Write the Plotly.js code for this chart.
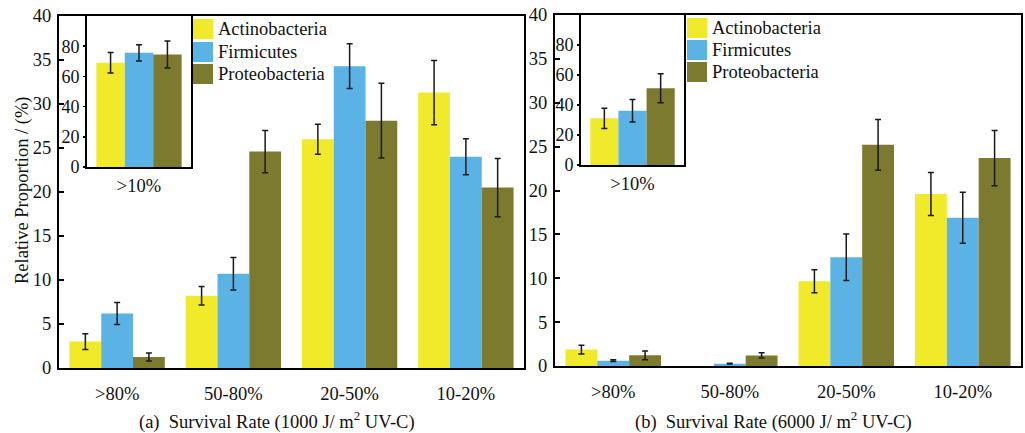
<!DOCTYPE html>
<html>
<head>
<meta charset="utf-8">
<script src="https://cdn.plot.ly/plotly-3.0.1.min.js"></script>
<style>html,body{margin:0;padding:0;background:#fff;}#chart{width:1025px;height:433px;}</style>
</head>
<body>
<div id="chart"></div>
<script>
// ---- data ----
const categories = [">80%", "50-80%", "20-50%", "10-20%"];
const insetCategory = [">10%"];
const seriesNames = ["Actinobacteria", "Firmicutes", "Proteobacteria"];
const seriesColors = ["#F1EA2B", "#5BB2E5", "#7B7A2E"];

// (a) 1000 J/m2 UV-C
const a_actino = [3.0, 8.2, 26.0, 31.3];
const a_actinoErr = [0.9, 1.05, 1.7, 3.65];
const a_firm = [6.2, 10.7, 34.3, 24.0];
const a_firmErr = [1.25, 1.85, 2.55, 2.05];
const a_proteo = [1.25, 24.6, 28.1, 20.5];
const a_proteoErr = [0.45, 2.4, 4.25, 3.3];
const a_inset = [69.0, 75.6, 74.5];
const a_insetErr = [6.8, 5.4, 9.0];

// (b) 6000 J/m2 UV-C  (no error bar shown for Actinobacteria at 50-80%)
const b_actino = [1.87, 0, 9.66, 19.6];
const b_actinoErr = [0.5, NaN, 1.3, 2.45];
const b_firm = [0.6, 0.27, 12.4, 16.9];
const b_firmErr = [0.1, 0.05, 2.65, 2.9];
const b_proteo = [1.22, 1.2, 25.2, 23.7];
const b_proteoErr = [0.5, 0.3, 2.9, 3.15];
const b_inset = [31.1, 36.2, 51.2];
const b_insetErr = [6.8, 7.5, 9.7];

const mainTicks = [0, 5, 10, 15, 20, 25, 30, 35, 40];
const insetTicks = [0, 20, 40, 60, 80];
const yTitle = "Relative Proportion / (%)";
const xTitleA = "(a)  Survival Rate (1000 J/ m<sup>2</sup> UV-C)";
const xTitleB = "(b)  Survival Rate (6000 J/ m<sup>2</sup> UV-C)";

// ---- build ----
const W = 1025, H = 433;
const px = v => v / W;
const py = v => 1 - v / H;
const FONT = '"Liberation Serif", "Times New Roman", serif';

const errStyle = arr => ({type: "data", array: arr, visible: true, color: "#1a1a1a", thickness: 1.5, width: 3});

function mainTraces(vals, errs, xa, ya) {
  return vals.map((v, i) => ({
    type: "bar", x: categories, y: v, name: seriesNames[i],
    marker: {color: seriesColors[i]}, error_y: errStyle(errs[i]),
    xaxis: xa, yaxis: ya, showlegend: false, hoverinfo: "skip"
  }));
}
function insetTraces(vals, errs, xa, ya) {
  return vals.map((v, i) => ({
    type: "bar", x: insetCategory, y: [v], name: seriesNames[i],
    marker: {color: seriesColors[i]}, error_y: errStyle([errs[i]]),
    xaxis: xa, yaxis: ya, showlegend: false, hoverinfo: "skip"
  }));
}

const data = [
  ...mainTraces([a_actino, a_firm, a_proteo], [a_actinoErr, a_firmErr, a_proteoErr], "x", "y"),
  ...mainTraces([b_actino, b_firm, b_proteo], [b_actinoErr, b_firmErr, b_proteoErr], "x2", "y2"),
  ...insetTraces(a_inset, a_insetErr, "x3", "y3"),
  ...insetTraces(b_inset, b_insetErr, "x4", "y4")
];

const tickFont = {family: FONT, size: 18.5, color: "#111"};

function mainX(domain, anchor) {
  return {domain, anchor, type: "category", showline: true, mirror: true, linecolor: "#000", linewidth: 2,
    ticks: "", tickfont: tickFont, ticklabelstandoff: 8, showgrid: false, zeroline: false, fixedrange: true};
}
function mainY(domain, anchor) {
  return {domain, anchor, range: [0, 40], tickvals: mainTicks, showline: true, mirror: true, linecolor: "#000", linewidth: 2,
    ticks: "inside", ticklen: 5, tickwidth: 2, tickcolor: "#000", tickfont: tickFont, ticklabelstandoff: 2,
    showgrid: false, zeroline: false, fixedrange: true};
}
function insetX(domain, anchor) {
  return {domain, anchor, type: "category", showline: true, mirror: true, linecolor: "#000", linewidth: 2,
    ticks: "", tickfont: tickFont, ticklabelstandoff: 1, showgrid: false, zeroline: false, fixedrange: true};
}
function insetY(domain, anchor) {
  return {domain, anchor, range: [0, 100], tickvals: insetTicks, showline: true, mirror: true, linecolor: "#000", linewidth: 2,
    ticks: "outside", ticklen: 2, tickwidth: 1.5, tickcolor: "#000", tickfont: {family: FONT, size: 18, color: "#111"},
    ticklabelstandoff: 0, showgrid: false, zeroline: false, fixedrange: true};
}

const shapes = [];
const annotations = [];
function legendAt(sx, textX, rowsY) {
  seriesNames.forEach((n, i) => {
    shapes.push({type: "rect", xref: "paper", yref: "paper",
      x0: px(sx), x1: px(sx + 20), y0: py(rowsY[i] + 20), y1: py(rowsY[i]),
      fillcolor: seriesColors[i], line: {width: 0}, layer: "above"});
    annotations.push({xref: "paper", yref: "paper", x: px(textX), y: py(rowsY[i] + 10),
      xanchor: "left", yanchor: "middle", text: n, showarrow: false,
      font: {family: FONT, size: 18.5, color: "#111"}});
  });
}
legendAt(193, 216, [19, 42, 64]);
legendAt(687, 710, [18, 40, 62]);

annotations.push({xref: "paper", yref: "paper", x: px(22), y: py(190), text: yTitle, textangle: -90,
  showarrow: false, xanchor: "center", yanchor: "middle", font: {family: FONT, size: 18.5, color: "#111"}});
annotations.push({xref: "paper", yref: "paper", x: px(277), y: py(420), text: xTitleA,
  showarrow: false, xanchor: "center", yanchor: "middle", font: {family: FONT, size: 18.5, color: "#111"}});
annotations.push({xref: "paper", yref: "paper", x: px(773), y: py(420), text: xTitleB,
  showarrow: false, xanchor: "center", yanchor: "middle", font: {family: FONT, size: 18.5, color: "#111"}});

const layout = {
  width: W, height: H,
  margin: {l: 0, r: 0, t: 0, b: 0},
  paper_bgcolor: "#fff", plot_bgcolor: "#fff",
  barmode: "group", bargap: 0.18, bargroupgap: 0,
  showlegend: false,
  font: {family: FONT, size: 18, color: "#111"},
  xaxis: mainX([px(59), px(524)], "y"),
  yaxis: mainY([py(368), py(16)], "x"),
  xaxis2: mainX([px(555), px(1021)], "y2"),
  yaxis2: mainY([py(366), py(15)], "x2"),
  xaxis3: insetX([px(87), px(191)], "y3"),
  yaxis3: insetY([py(167), py(16)], "x3"),
  xaxis4: insetX([px(581), px(684)], "y4"),
  yaxis4: insetY([py(165), py(15)], "x4"),
  shapes, annotations
};

Plotly.newPlot("chart", data, layout, {staticPlot: true, displayModeBar: false});
</script>
</body>
</html>
